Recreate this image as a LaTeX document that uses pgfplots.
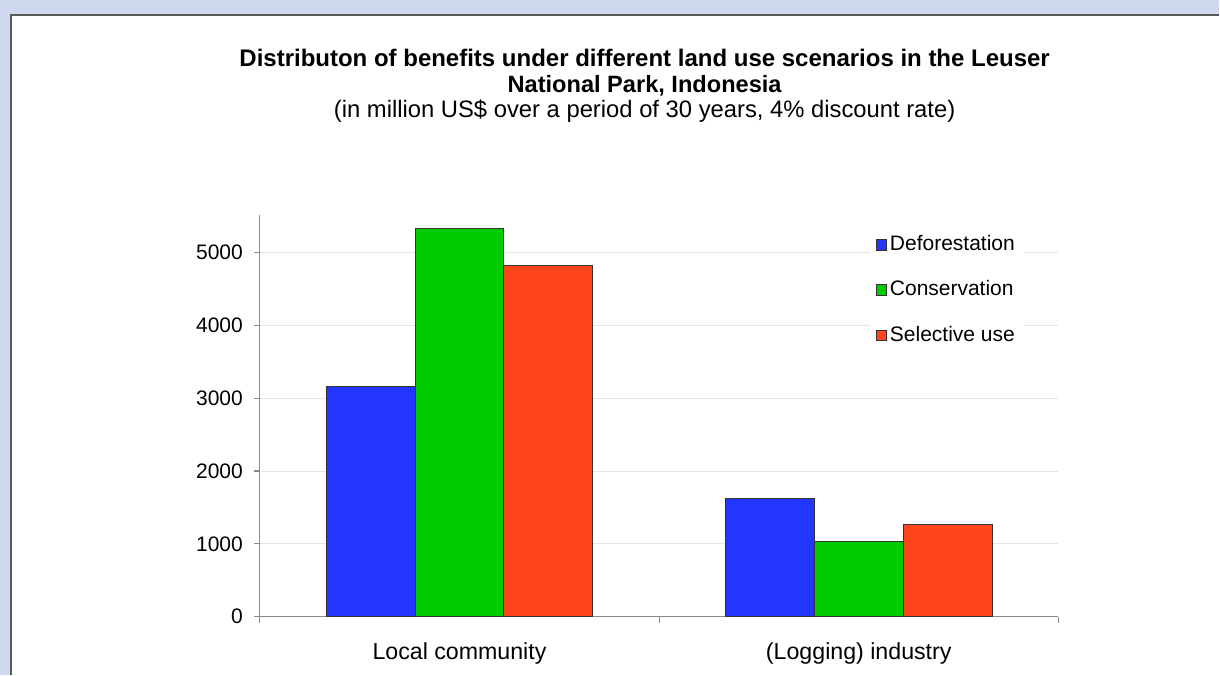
\documentclass[border=0pt]{standalone}
\usepackage{pgfplots}
\pgfplotsset{compat=1.18}
\usepackage{fontspec}
\setmainfont{Liberation Sans}
\definecolor{bgc}{HTML}{D0D8EF}
\definecolor{cblue}{HTML}{2236FF}
\definecolor{cgreen}{HTML}{00CC00}
\definecolor{cred}{HTML}{FF451C}
\definecolor{axgray}{HTML}{8A8A8A}
\begin{document}
\begin{tikzpicture}
\fill[bgc] (0,0) rectangle (610pt,337.5pt);
\fill[white] (5.5pt,0) rectangle (610pt,330pt);
\draw[black!65, line width=0.7pt] (5.5pt,0) -- (5.5pt,330pt) -- (610pt,330pt);
\node[font=\fontsize{12}{13}\selectfont\bfseries] at (322.5pt,308.5pt) {Distributon of benefits under different land use scenarios in the Leuser};
\node[font=\fontsize{11.8}{13}\selectfont\bfseries] at (322.5pt,294.4pt) {National Park, Indonesia};
\node[font=\fontsize{11.9}{13}\selectfont] at (322.5pt,281.8pt) {(in million US\$ over a period of 30 years, 4\% discount rate)};
\begin{axis}[
  at={(130pt,29pt)}, anchor=south west,
  scale only axis, width=399.5pt, height=201pt,
  xmin=-0.5, xmax=1.5, ymin=0, ymax=5520,
  axis x line=bottom, axis y line=left,
  axis line style={-, axgray, line width=0.6pt},
  tick style={axgray, line width=0.6pt},
  tick align=outside, major tick length=3pt,
  ybar=0pt, bar width=44.5pt,
  ytick={0,1000,2000,3000,4000,5000},
  ymajorgrids, grid style={black!10, line width=0.5pt},
  xtick={-0.5,0.5,1.5}, xticklabels={},
  extra x ticks={0,1},
  extra x tick labels={Local community,(Logging) industry},
  extra x tick style={major tick length=0pt, grid=none,
     tick label style={font=\fontsize{11.6}{13}\selectfont, yshift=-9.5pt}},
  /pgf/number format/1000 sep={},
  /pgf/number format/assume math mode=true,
  yticklabel style={font=\fontsize{10.5}{12}\selectfont, xshift=-2pt},
  legend style={at={(0.763,0.97)}, anchor=north west, draw=none, fill=white,
     font=\fontsize{10.5}{12}\selectfont, row sep=9.6pt,
     nodes={inner xsep=1.5pt}},
  legend cell align=left,
  legend image code/.code={\draw[#1, line width=0.3pt] (0pt,-2.7pt) rectangle (5.4pt,2.7pt);},
  clip=false,
]
\addplot[fill=cblue, draw=black!80, line width=0.5pt] coordinates {(0,3160) (1,1620)};
\addplot[fill=cgreen, draw=black!80, line width=0.5pt] coordinates {(0,5330) (1,1030)};
\addplot[fill=cred, draw=black!80, line width=0.5pt] coordinates {(0,4820) (1,1265)};
\legend{Deforestation,Conservation,Selective use}
\end{axis}
\end{tikzpicture}
\end{document}
